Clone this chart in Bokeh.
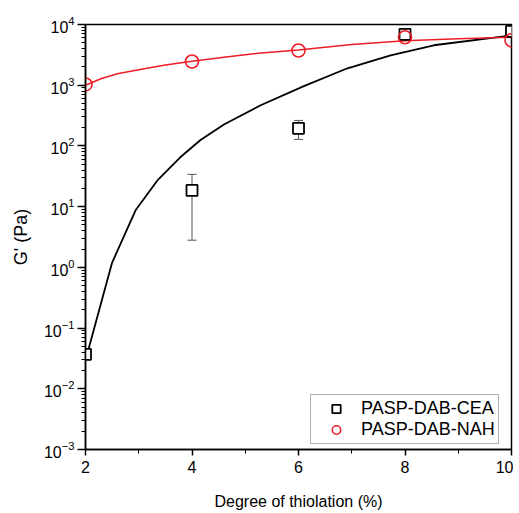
from bokeh.plotting import figure
from bokeh.models import (ColumnDataSource, Whisker, TeeHead, Legend, LegendItem,
                          FixedTicker, LogTicker, Range1d)
from bokeh.embed import file_html
from bokeh.resources import INLINE

# ---- data ----
x_pts = [2, 4, 6, 8, 10]
cea_y = [0.037, 18.5, 195, 6900, 7700]
nah_y = [1030, 2460, 3730, 6150, 5500]

err_x = [4, 6]
err_lower = [2.8, 128]
err_upper = [34, 263]

fit_cea_x = [2.06, 2.5, 2.94, 3.35, 3.78, 4.16, 4.6, 5.29, 6.09, 6.92, 7.73, 8.54, 10.0]
fit_cea_y = [0.046, 1.2, 8.7, 27, 65, 125, 225, 467, 955, 1900, 3100, 4550, 6600]

fit_nah_x = [2.0, 2.3, 2.6, 3.0, 3.5, 4.0, 4.6, 5.3, 6.0, 7.0, 8.0, 9.0, 10.0]
fit_nah_y = [1000, 1290, 1550, 1800, 2150, 2480, 2900, 3400, 3800, 4700, 5400, 5850, 6150]

x_ticks = [2, 4, 6, 8, 10]
x_minor = [3, 5, 7, 9]

RED = "#ee1c25"
FONT = "Liberation Sans"

p = figure(width=513, height=513, output_backend="svg", toolbar_location=None,
           y_axis_type="log", x_range=Range1d(2, 10), y_range=Range1d(1e-3, 1e4),
           min_border_left=85, min_border_right=2, min_border_top=24, min_border_bottom=64)
p.grid.visible = False
p.outline_line_color = "black"
p.outline_line_width = 1.5
p.background_fill_color = "white"
p.border_fill_color = "white"

# axes
p.xaxis.ticker = FixedTicker(ticks=x_ticks, minor_ticks=x_minor)
p.yaxis.ticker = LogTicker(num_minor_ticks=10)
for ax in (p.xaxis[0], p.yaxis[0]):
    ax.axis_line_width = 1.5
    ax.axis_line_color = "black"
    ax.major_tick_line_width = 1.5
    ax.minor_tick_line_width = 1
    ax.major_tick_in = 0
    ax.minor_tick_in = 0
    ax.major_label_text_font = FONT
    ax.major_label_text_font_size = "16px"
    ax.major_label_text_color = "black"
    ax.axis_label_text_font = FONT
    ax.axis_label_text_font_size = "16px"
    ax.axis_label_text_font_style = "normal"
    ax.axis_label_text_color = "black"
p.yaxis.axis_label_text_font_size = "18px"
p.xaxis.major_tick_out = 6
p.xaxis.minor_tick_out = 4
p.yaxis.major_tick_out = 8
p.yaxis.minor_tick_out = 4
p.xaxis.axis_label = "Degree of thiolation (%)"
p.yaxis.axis_label = "G' (Pa)"
p.xaxis.major_label_standoff = 5
p.xaxis.axis_label_standoff = 17
p.yaxis.major_label_standoff = 3
p.yaxis.axis_label_standoff = 10

# fit curves
p.line(fit_cea_x, fit_cea_y, line_color="black", line_width=1.8)
p.line(fit_nah_x, fit_nah_y, line_color=RED, line_width=1.5)

# error bars
esrc = ColumnDataSource(dict(x=err_x, lower=err_lower, upper=err_upper))
p.add_layout(Whisker(source=esrc, base="x", lower="lower", upper="upper",
                     line_color="#555555", line_width=1,
                     upper_head=TeeHead(size=9, line_color="#555555", line_width=1),
                     lower_head=TeeHead(size=9, line_color="#555555", line_width=1)))

# markers
r_cea = p.scatter(x_pts, cea_y, marker="square", size=11, line_color="black",
                  line_width=1.8, fill_color="white")
r_nah = p.scatter(x_pts, nah_y, marker="circle", size=13, line_color=RED,
                  line_width=1.6, fill_color=None)

legend = Legend(items=[LegendItem(label="PASP-DAB-CEA", renderers=[r_cea]),
                       LegendItem(label="PASP-DAB-NAH", renderers=[r_nah])],
                location=(225, 5), padding=3, spacing=0, glyph_width=44,
                glyph_height=21, label_height=21, label_standoff=3,
                label_text_font=FONT, label_text_font_size="18px",
                label_text_color="black",
                border_line_color="#666666", border_line_width=1,
                background_fill_alpha=1, margin=0)
p.add_layout(legend)

open("out.html", "w").write(file_html(p, INLINE))
